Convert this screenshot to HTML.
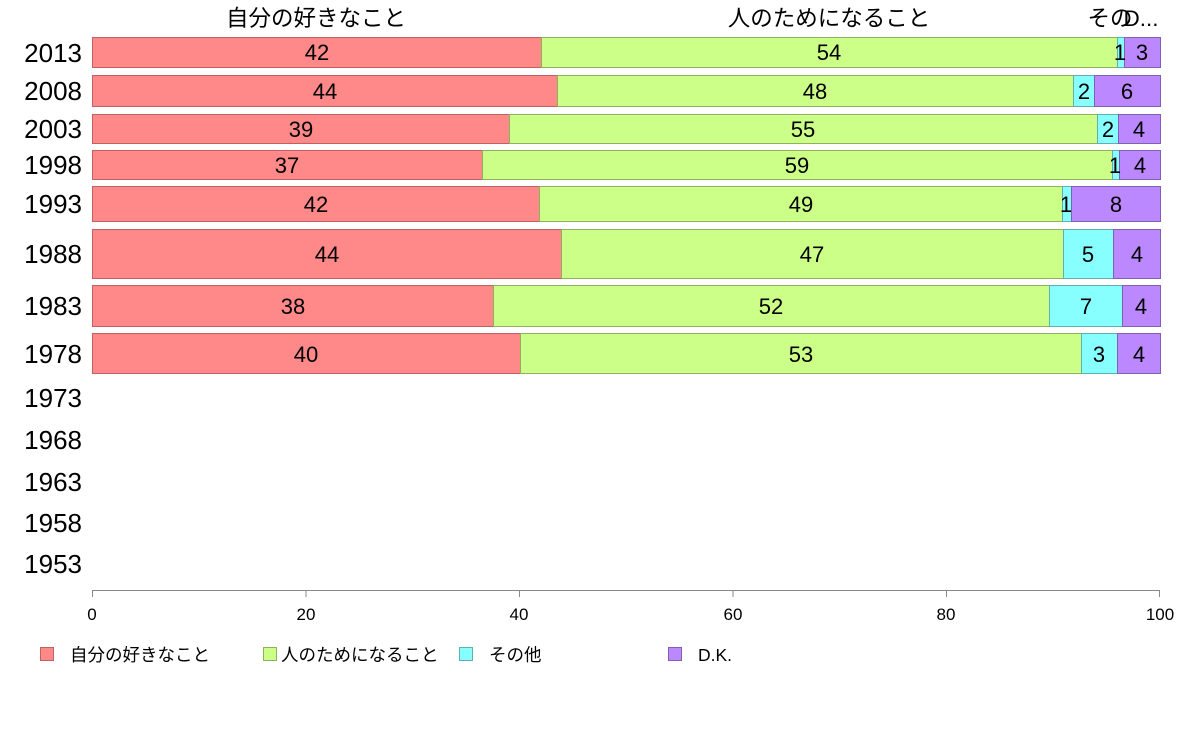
<!DOCTYPE html>
<html><head><meta charset="utf-8"><style>
body{margin:0;background:#fff;}
svg text{font-family:"Liberation Sans","Noto Sans CJK JP",sans-serif;}
</style></head><body>
<svg width="1188" height="736" xmlns="http://www.w3.org/2000/svg">
<g font-size="22.5" text-anchor="middle" fill="#000">
<text x="316" y="26">自分の好きなこと</text>
<text x="829" y="26">人のためになること</text>
<text x="1110" y="26">その</text>
<text x="1141" y="26">D...</text>
</g>
<g stroke-width="1">
<g fill="#ff8888" stroke="#c06060">
<rect x="92.5" y="37.5" width="449" height="30"/>
<rect x="92.5" y="75.5" width="465" height="31"/>
<rect x="92.5" y="114.5" width="417" height="29"/>
<rect x="92.5" y="150.5" width="390" height="29"/>
<rect x="92.5" y="186.5" width="447" height="35"/>
<rect x="92.5" y="229.5" width="469" height="49"/>
<rect x="92.5" y="285.5" width="401" height="41"/>
<rect x="92.5" y="333.5" width="428" height="40"/>
</g>
<g fill="#ccff88" stroke="#90b060">
<rect x="541.5" y="37.5" width="576" height="30"/>
<rect x="557.5" y="75.5" width="516" height="31"/>
<rect x="509.5" y="114.5" width="588" height="29"/>
<rect x="482.5" y="150.5" width="630" height="29"/>
<rect x="539.5" y="186.5" width="523" height="35"/>
<rect x="561.5" y="229.5" width="502" height="49"/>
<rect x="493.5" y="285.5" width="556" height="41"/>
<rect x="520.5" y="333.5" width="561" height="40"/>
</g>
<g fill="#88ffff" stroke="#60b0b0">
<rect x="1117.5" y="37.5" width="7" height="30"/>
<rect x="1073.5" y="75.5" width="21" height="31"/>
<rect x="1097.5" y="114.5" width="21" height="29"/>
<rect x="1112.5" y="150.5" width="7" height="29"/>
<rect x="1062.5" y="186.5" width="9" height="35"/>
<rect x="1063.5" y="229.5" width="50" height="49"/>
<rect x="1049.5" y="285.5" width="73" height="41"/>
<rect x="1081.5" y="333.5" width="36" height="40"/>
</g>
<g fill="#bb88ff" stroke="#8060b0">
<rect x="1124.5" y="37.5" width="36" height="30"/>
<rect x="1094.5" y="75.5" width="66" height="31"/>
<rect x="1118.5" y="114.5" width="42" height="29"/>
<rect x="1119.5" y="150.5" width="41" height="29"/>
<rect x="1071.5" y="186.5" width="89" height="35"/>
<rect x="1113.5" y="229.5" width="47" height="49"/>
<rect x="1122.5" y="285.5" width="38" height="41"/>
<rect x="1117.5" y="333.5" width="43" height="40"/>
</g>
</g>
<g font-size="22" text-anchor="middle">
<text x="317" y="60">42</text><text x="829" y="60">54</text><text x="1120" y="60">1</text><text x="1142" y="60">3</text>
<text x="325" y="99">44</text><text x="815" y="99">48</text><text x="1084" y="99">2</text><text x="1127" y="99">6</text>
<text x="301" y="137">39</text><text x="803" y="137">55</text><text x="1108" y="137">2</text><text x="1139" y="137">4</text>
<text x="287" y="173">37</text><text x="797" y="173">59</text><text x="1115" y="173">1</text><text x="1140" y="173">4</text>
<text x="316" y="212">42</text><text x="801" y="212">49</text><text x="1066" y="212">1</text><text x="1116" y="212">8</text>
<text x="327" y="262">44</text><text x="812" y="262">47</text><text x="1088" y="262">5</text><text x="1137" y="262">4</text>
<text x="293" y="314">38</text><text x="771" y="314">52</text><text x="1086" y="314">7</text><text x="1141" y="314">4</text>
<text x="306" y="362">40</text><text x="801" y="362">53</text><text x="1099" y="362">3</text><text x="1139" y="362">4</text>
</g>
<g font-size="26" text-anchor="end">
<text x="82" y="62">2013</text><text x="82" y="100">2008</text><text x="82" y="138">2003</text><text x="82" y="174">1998</text><text x="82" y="213">1993</text><text x="82" y="263">1988</text><text x="82" y="315">1983</text><text x="82" y="363">1978</text><text x="82" y="407">1973</text><text x="82" y="449">1968</text><text x="82" y="491">1963</text><text x="82" y="532">1958</text><text x="82" y="573">1953</text>
</g>
<g stroke="#888" stroke-width="1">
<line x1="92" y1="590.5" x2="1160" y2="590.5"/>
<line x1="92.5" y1="590" x2="92.5" y2="597"/><line x1="306" y1="590" x2="306" y2="597"/><line x1="519.5" y1="590" x2="519.5" y2="597"/><line x1="733" y1="590" x2="733" y2="597"/><line x1="946.5" y1="590" x2="946.5" y2="597"/><line x1="1159.5" y1="590" x2="1159.5" y2="597"/>
</g>
<g font-size="17" text-anchor="middle">
<text x="92" y="620">0</text><text x="306" y="620">20</text><text x="519" y="620">40</text><text x="733" y="620">60</text><text x="946" y="620">80</text><text x="1160" y="620">100</text>
</g>
<g font-size="17.5">
<rect x="40.5" y="647.5" width="13" height="13" fill="#ff8888" stroke="#c06060"/><text x="70" y="661">自分の好きなこと</text>
<rect x="263.5" y="647.5" width="13" height="13" fill="#ccff88" stroke="#90b060"/><text x="281" y="661">人のためになること</text>
<rect x="459.5" y="647.5" width="13" height="13" fill="#88ffff" stroke="#60b0b0"/><text x="489" y="661">その他</text>
<rect x="668.5" y="647.5" width="13" height="13" fill="#bb88ff" stroke="#8060b0"/><text x="698" y="661">D.K.</text>
</g>
</svg>
</body></html>
